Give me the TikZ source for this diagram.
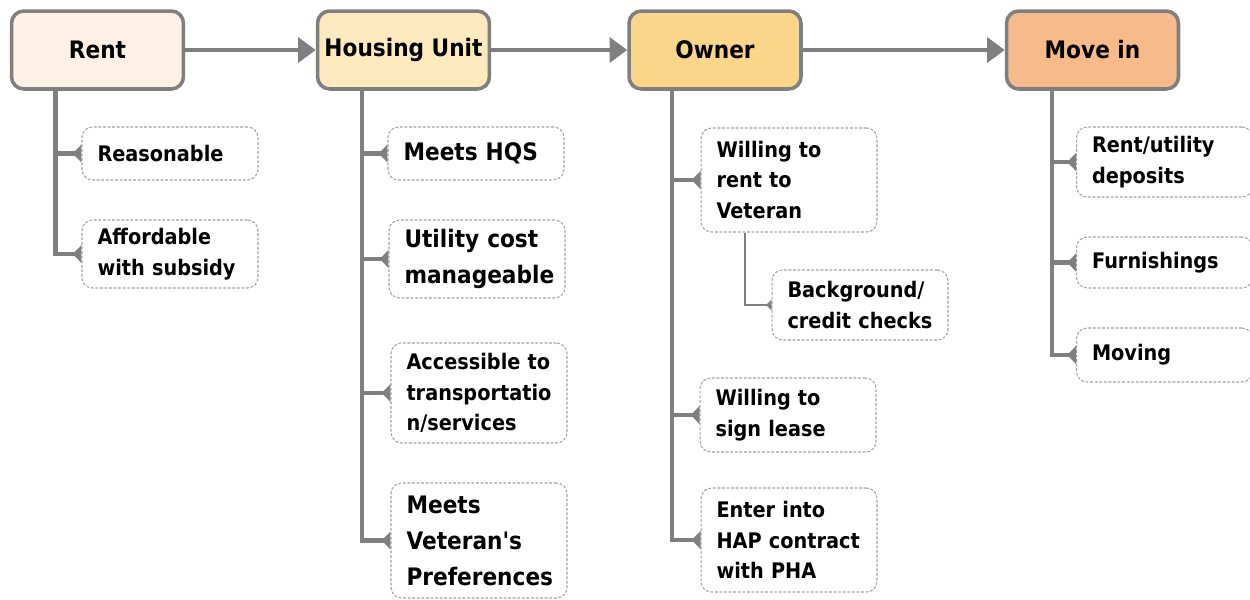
\documentclass[tikz,border=0pt]{standalone}
\usepackage{fontspec}
\newfontfamily\chartfont{DejaVu Sans}[FakeStretch=0.9]
\usetikzlibrary{arrows.meta}
\definecolor{framegray}{HTML}{7F7F7F}
\definecolor{dashgray}{HTML}{A0A0A0}
\definecolor{rentfill}{HTML}{FDF1E6}
\definecolor{unitfill}{HTML}{FCE9BE}
\definecolor{ownerfill}{HTML}{FAD58A}
\definecolor{moveinfill}{HTML}{F7BB8B}

\begin{document}
\begin{tikzpicture}[
    x=0.02cm, y=-0.02cm,
    stage/.style={rectangle, rounded corners=7pt, draw=framegray, line width=2pt,
        minimum width=3.44cm, minimum height=1.56cm,
        font=\chartfont\bfseries\fontsize{13.7}{16}\selectfont},
    item/.style={rectangle, rounded corners=6pt, draw=dashgray, line width=0.6pt,
        dash pattern=on 1.6pt off 1pt, minimum width=3.52cm, text width=2.9cm,
        inner xsep=0.31cm, align=left,
        execute at begin node={\hyphenpenalty=10000},
        font=\chartfont\bfseries\fontsize{12.2}{17.5}\selectfont},
    bigitem/.style={item, font=\chartfont\bfseries\fontsize{13.7}{20.5}\selectfont},
    flow/.style={draw=framegray, line width=2.4pt, -{Triangle[length=10pt, width=14pt]}},
    trunk/.style={draw=framegray, line width=2.4pt, -{Triangle[reversed, length=5pt, width=10pt]}},
    twig/.style={draw=framegray, line width=0.8pt, -{Triangle[reversed, length=3pt, width=6pt]}},
    ]
    \useasboundingbox (0,0) rectangle (1250,599);

    \node (rent) [stage, fill=rentfill] at (97.5,50) {Rent};
    \node (housing) [stage, fill=unitfill] at (403.5,50) {Housing Unit};
    \node (owner) [stage, fill=ownerfill] at (715,50) {Owner};
    \node (movein) [stage, fill=moveinfill] at (1092.5,50) {Move in};

    \node (reasonable) [item, minimum height=1.06cm] at (170,153.5) {Reasonable};
    \node (affordable) [item, minimum height=1.36cm] at (170,254) {Affordable\\with subsidy};

    \node (hqs) [bigitem, minimum height=1.06cm] at (476,153.5) {Meets HQS};
    \node (utility) [bigitem, minimum height=1.56cm] at (477,259) {Utility cost\\manageable};
    \node (access) [item, minimum height=2cm] at (479,393) {Accessible~to\\transportatio\\n/services};
    \node (prefs) [bigitem, minimum height=2.3cm] at (479,540.5) {Meets\\Veteran\char"27 s\\Preferences};

    \node (willrent) [item, minimum height=2.08cm] at (789,180) {Willing to\\rent to\\Veteran};
    \node (checks) [item, minimum height=1.4cm] at (860,305) {Background/\\credit~checks};
    \node (lease) [item, minimum height=1.48cm] at (788,415) {Willing to\\sign lease};
    \node (hap) [item, minimum height=2.08cm] at (789,540) {Enter into\\HAP~contract\\with PHA};

    \node (deposits) [item, minimum height=1.4cm] at (1164.5,162) {Rent/utility\\deposits};
    \node (furnish) [item, minimum height=1.02cm] at (1164.5,262.5) {Furnishings};
    \node (moving) [item, minimum height=1.08cm] at (1164.5,355) {Moving};

    \draw[flow] (rent) -- (housing);
    \draw[flow] (housing) -- (owner);
    \draw[flow] (owner) -- (movein);

    \coordinate (rent-t) at ([xshift=-0.84cm]rent.south);
    \coordinate (housing-t) at ([xshift=-0.83cm]housing.south);
    \coordinate (owner-t) at ([xshift=-0.86cm]owner.south);
    \coordinate (movein-t) at ([xshift=-0.81cm]movein.south);
    \coordinate (willrent-b) at ([xshift=-0.88cm]willrent.south);

    \foreach \s in {reasonable, affordable}
        \draw[trunk] (rent-t) |- (\s.west);
    \foreach \s in {hqs, utility, access, prefs}
        \draw[trunk] (housing-t) |- (\s.west);
    \foreach \s in {willrent, lease, hap}
        \draw[trunk] (owner-t) |- (\s.west);
    \foreach \s in {deposits, furnish, moving}
        \draw[trunk] (movein-t) |- (\s.west);
    \draw[twig] (willrent-b) |- (checks.west);
\end{tikzpicture}
\end{document}
